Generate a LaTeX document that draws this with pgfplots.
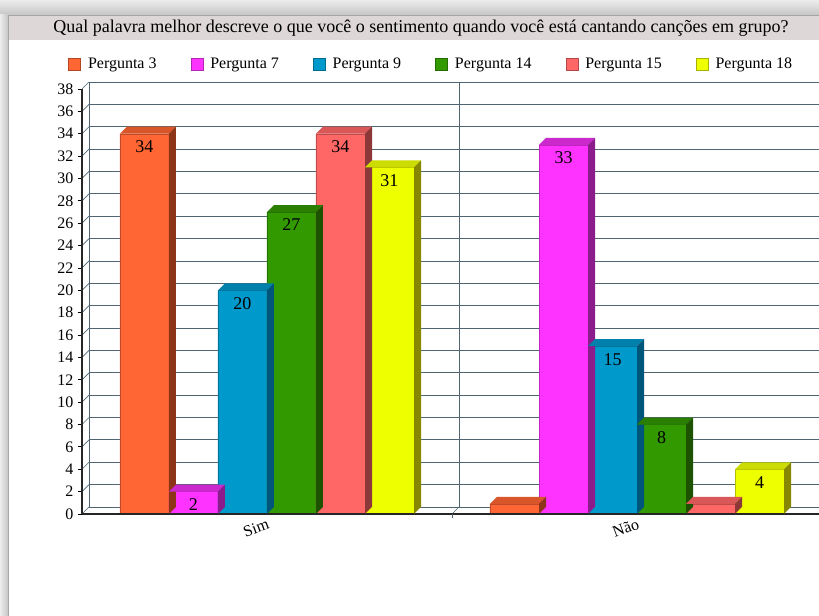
\documentclass[border=0pt]{standalone}
\usepackage{fontspec}
\setmainfont{Liberation Serif}
\usepackage{pgfplots}
\usepackage{pgfplotstable}
\pgfplotsset{compat=1.18}

\definecolor{p3f}{HTML}{FF6633}\definecolor{p3t}{HTML}{D9562B}\definecolor{p3s}{HTML}{8C3519}
\definecolor{p7f}{HTML}{FF33FF}\definecolor{p7t}{HTML}{CC29CC}\definecolor{p7s}{HTML}{8C1C8C}
\definecolor{p9f}{HTML}{0099CC}\definecolor{p9t}{HTML}{0080AA}\definecolor{p9s}{HTML}{00557A}
\definecolor{p14f}{HTML}{339900}\definecolor{p14t}{HTML}{2A7F00}\definecolor{p14s}{HTML}{1C5200}
\definecolor{p15f}{HTML}{FF6666}\definecolor{p15t}{HTML}{D95757}\definecolor{p15s}{HTML}{8C3838}
\definecolor{p18f}{HTML}{EEFF00}\definecolor{p18t}{HTML}{CCDB00}\definecolor{p18s}{HTML}{888800}
\definecolor{gridc}{HTML}{4F6672}
\definecolor{band}{HTML}{DDD7D7}

\pgfplotstableread{
x y l
0 34 34
1 0.9 {}
}\tA
\pgfplotstableread{
x y l
0 2 2
1 33 33
}\tB
\pgfplotstableread{
x y l
0 20 20
1 15 15
}\tC
\pgfplotstableread{
x y l
0 27 27
1 8 8
}\tD
\pgfplotstableread{
x y l
0 34 34
1 0.9 {}
}\tE
\pgfplotstableread{
x y l
0 31 31
1 4 4
}\tF

\newcommand{\bars}[6]{%
 \addplot[ybar, bar width=36.75pt, bar shift=#2, fill=#3, draw=#3!75!black, line width=0.3pt,
   legend image code/.code={\path[draw=#3!70!black, fill=#3, line width=0.3pt] (0pt,-4.5pt) rectangle (9pt,4.5pt);\path (12.5pt,0pt);},
   nodes near coords={},
   every node near coord/.style={fill=#4, inner sep=0pt, outer sep=0pt, minimum width=36.75pt, minimum height=5.25pt, anchor=south, xshift=#2, xslant=1}]
   table[x=x,y=y]{#1};
 \addlegendentry{#6}
 \addplot[ybar, bar width=36.75pt, bar shift=#2, draw=none, fill=none, forget plot,
   visualization depends on={\thisrow{y} \as \rawy},
   nodes near coords={},
   every node near coord/.style={fill=#5, inner sep=0pt, outer sep=0pt, minimum width=5.25pt, minimum height={\rawy*8.388pt}, anchor=north west, xshift={#2+18.375pt}, yslant=1}]
   table[x=x,y=y]{#1};
}
\newcommand{\labels}[2]{%
 \addplot[ybar, bar width=36.75pt, bar shift=#2, draw=none, fill=none, forget plot,
   point meta=explicit symbolic, nodes near coords={\pgfplotspointmeta},
   every node near coord/.style={anchor=north, font=\fontsize{13.5}{15}\selectfont, inner sep=2pt, xshift=#2, yshift=-3pt}]
   table[x=x,y=y,meta=l]{#1};
}

\begin{document}
\begin{tikzpicture}
\useasboundingbox (0pt,0pt) rectangle (614.25pt,462pt);
\clip (0pt,0pt) rectangle (614.25pt,462pt);
\begin{scope}[x=0.75pt,y=0.75pt]
\fill[white] (0,0) rectangle (819,616);
\shade[top color=gray!15, bottom color=gray!45] (0,601) rectangle (819,616);
\shade[left color=gray!15, right color=gray!45] (0,0) rectangle (8,601);
\fill[band] (8,576) rectangle (819,601);
\draw[gray!70, line width=0.5pt] (8,0) -- (8,601) -- (819,601);
\node[font=\fontsize{13.5}{16}\selectfont] at (421,588) {Qual palavra melhor descreve o que você o sentimento quando você está cantando canções em grupo?};
\end{scope}

% back wall
\begin{axis}[at={(66.75pt,81.75pt)}, anchor=south west, x=277.5pt, y=8.388pt,
  xmin=-0.5, xmax=1.5, ymin=0, ymax=38, clip=false,
  ytick={0,2,...,38}, yticklabels={}, xtick={0.5}, xticklabels={},
  major tick length=0pt, grid=major,
  major grid style={draw=gridc, line width=0.6pt},
  axis x line*=bottom, axis y line*=left,
  axis line style={-, draw=gridc, line width=0.6pt}]
  \pgfplotsinvokeforeach{0,2,...,38}{\draw[gridc, line width=0.5pt] (axis cs:-0.5,#1) -- ++(-5.25pt,-5.25pt);}
  \draw[gridc, line width=0.5pt] (axis cs:0.5,0) -- ++(-5.25pt,-5.25pt);
\end{axis}

% front
\begin{axis}[at={(61.5pt,76.5pt)}, anchor=south west, x=277.5pt, y=8.388pt,
  xmin=-0.5, xmax=1.5, ymin=0, ymax=38, axis on top,
  axis x line*=bottom, axis y line*=left,
  axis line style={-, draw=black!85, line width=1.4pt},
  ytick={0,2,...,38}, tick align=outside, major tick length=3pt,
  y tick style={draw=black, line width=0.6pt},
  xtick={0,1}, xticklabels={Sim,Não}, x tick style={draw=none},
  extra x ticks={0.5}, extra x tick labels={}, extra x tick style={x tick style={draw=gridc, line width=0.6pt}},
  /pgf/number format/assume math mode=true,
  tick label style={font=\fontsize{12}{14}\selectfont},
  xticklabel style={rotate=20, anchor=north east, xshift=3pt, yshift=3.5pt},
  legend style={at={(-0.0189,1.0588)}, anchor=west, draw=none, fill=none, legend columns=6,
    font=\fontsize{12}{14}\selectfont, inner sep=0pt,
    /tikz/every even column/.append style={column sep=23.5pt}},
  ]
  \bars{\tA}{-91.875pt}{p3f}{p3t}{p3s}{Pergunta 3}
  \bars{\tB}{-55.125pt}{p7f}{p7t}{p7s}{Pergunta 7}
  \bars{\tC}{-18.375pt}{p9f}{p9t}{p9s}{Pergunta 9}
  \bars{\tD}{18.375pt}{p14f}{p14t}{p14s}{Pergunta 14}
  \bars{\tE}{55.125pt}{p15f}{p15t}{p15s}{Pergunta 15}
  \bars{\tF}{91.875pt}{p18f}{p18t}{p18s}{Pergunta 18}
  \labels{\tA}{-91.875pt}
  \labels{\tB}{-55.125pt}
  \labels{\tC}{-18.375pt}
  \labels{\tD}{18.375pt}
  \labels{\tE}{55.125pt}
  \labels{\tF}{91.875pt}
\end{axis}
\end{tikzpicture}
\end{document}
